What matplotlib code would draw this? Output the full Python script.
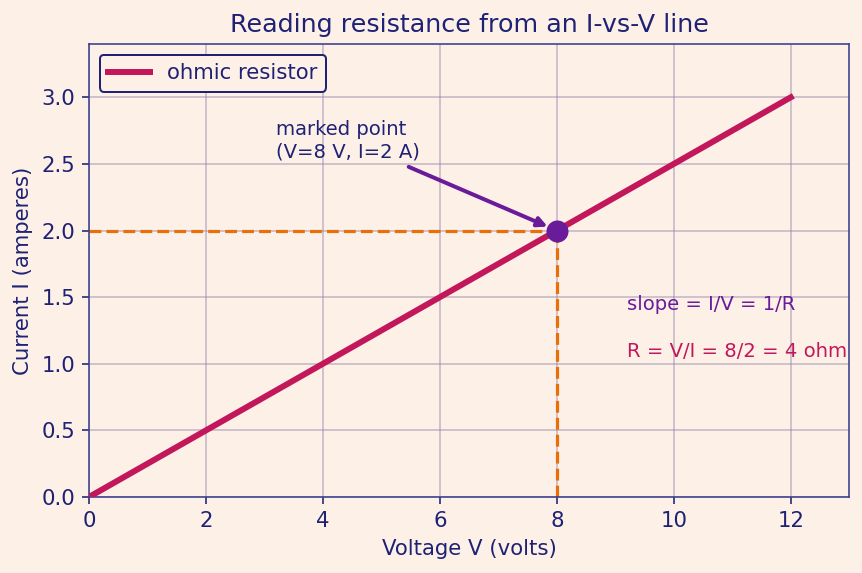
import matplotlib.pyplot as plt

# data
voltage = [0, 2, 4, 6, 8, 10, 12]
current = [0, 0.5, 1.0, 1.5, 2.0, 2.5, 3.0]
point_v = 8
point_i = 2

bg = '#fdf1e7'
navy = '#1f2175'
crimson = '#c2185b'
purple = '#6a1b9a'
orange = '#e8700a'

fig = plt.figure(figsize=(862/144, 573/144), dpi=144, facecolor=bg)
ax = fig.add_axes([0.1032, 0.1326, 0.882, 0.7906], facecolor=bg)

ax.plot(voltage, current, color=crimson, lw=3, label='ohmic resistor', zorder=3)
# guide lines to the marked point
ax.plot([0, point_v], [point_i, point_i], color=orange, lw=1.6, ls='--', zorder=2)
ax.plot([point_v, point_v], [0, point_i], color=orange, lw=1.6, ls='--', zorder=2)
ax.plot([point_v], [point_i], 'o', color=purple, ms=10, zorder=4)

ax.annotate('marked point\n(V=8 V, I=2 A)', xy=(point_v, point_i), xytext=(3.2, 2.55),
            color=navy, fontsize=9.8,
            arrowprops=dict(arrowstyle='-|>', color=purple, lw=2, shrinkB=5))

ax.text(9.2, 1.4, 'slope = I/V = 1/R', color=purple, fontsize=9.8)
ax.text(9.2, 1.05, 'R = V/I = 8/2 = 4 ohm', color=crimson, fontsize=9.8)

ax.set_xlim(0, 13)
ax.set_ylim(0, 3.4)
ax.set_yticks([0, 0.5, 1.0, 1.5, 2.0, 2.5, 3.0])
ax.grid(True, color='#8e7fa8', alpha=0.45, lw=0.9)
ax.set_axisbelow(True)

ax.set_title('Reading resistance from an I-vs-V line', color=navy, fontsize=12.7)
ax.set_xlabel('Voltage V (volts)', color=navy, fontsize=10.6)
ax.set_ylabel('Current I (amperes)', color=navy, fontsize=10.6)
ax.tick_params(colors=navy, labelsize=10.6)
for s in ax.spines.values():
    s.set_color('#3a3f8f')

leg = ax.legend(loc='upper left', fontsize=10.6, facecolor=bg, edgecolor=navy, framealpha=1)
for t in leg.get_texts():
    t.set_color(navy)

fig.savefig('out.png', dpi=144, facecolor=bg)
